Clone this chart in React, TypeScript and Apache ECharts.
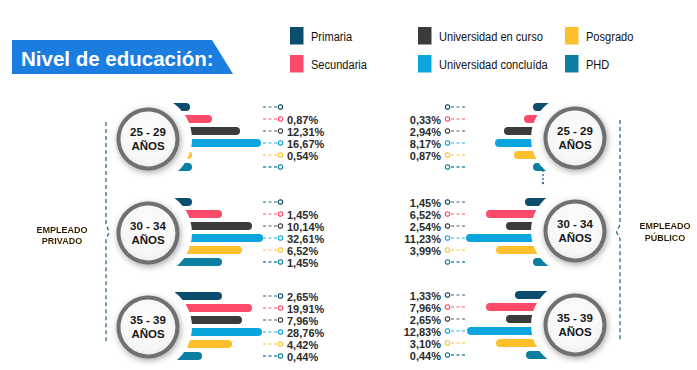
import React, { useEffect, useRef } from 'react';
import * as echarts from 'echarts';

// ---------- data ----------
const categories = [
  'Primaria',
  'Secundaria',
  'Universidad en curso',
  'Universidad concluída',
  'Posgrado',
  'PHD',
];
const ageGroups = ['25 - 29', '30 - 34', '35 - 39'];

// Percentages shown as labels (null = no label in the source)
const privado2529 = [null, 0.87, 12.31, 16.67, 0.54, null];
const privado3034 = [null, 1.45, 10.14, 32.61, 6.52, 1.45];
const privado3539 = [2.65, 19.91, 7.96, 28.76, 4.42, 0.44];
const publico2529 = [null, 0.33, 2.94, 8.17, 0.87, null];
const publico3034 = [1.45, 6.52, 2.54, 11.23, 3.99, null];
const publico3539 = [1.33, 7.96, 2.65, 12.83, 3.1, 0.44];

// Bar lengths as drawn in the source infographic (visual scale, not proportional)
const privadoBar2529 = [0, 2.2, 5.0, 7.1, 0.2, 0.2];
const privadoBar3034 = [0.2, 3.2, 6.2, 7.3, 5.2, 3.2];
const privadoBar3539 = [3.2, 6.2, 5.2, 7.2, 4.2, 1.2];
const publicoBar2529 = [0, 0.9, 2.9, 3.8, 1.9, 0];
const publicoBar3034 = [0.8, 4.7, 2.7, 6.7, 3.7, 0];
const publicoBar3539 = [1.8, 4.7, 2.7, 6.6, 3.7, 0.7];

const sideLabels = { privado: ['EMPLEADO', 'PRIVADO'], publico: ['EMPLEADO', 'PÚBLICO'] };
const titleText = 'Nivel de educación:';

// ---------- styles ----------
const COLORS = ['#0b4d6c', '#fd4a68', '#3b3b3b', '#0aa5dd', '#fdc02c', '#0b7ea1'];
const DASH_COLORS = ['#6f97ac', '#fd8d9f', '#8c8c8c', '#70c9ee', '#fdd57a', '#2f8cad'];
const FONT = '"Liberation Sans", Arial, sans-serif';

const fmt = (v: number) => v.toFixed(2).replace('.', ',') + '%';

type Panel = { side: 'L' | 'R'; pct: (number | null)[]; bar: number[]; top: number; cy: number; age: string };

const panels: Panel[] = [
  { side: 'L', pct: privado2529, bar: privadoBar2529, top: 101, cy: 139, age: ageGroups[0] },
  { side: 'L', pct: privado3034, bar: privadoBar3034, top: 196, cy: 233, age: ageGroups[1] },
  { side: 'L', pct: privado3539, bar: privadoBar3539, top: 290, cy: 327, age: ageGroups[2] },
  { side: 'R', pct: publico2529, bar: publicoBar2529, top: 101, cy: 138, age: ageGroups[0] },
  { side: 'R', pct: publico3034, bar: publicoBar3034, top: 196, cy: 231, age: ageGroups[1] },
  { side: 'R', pct: publico3539, bar: publicoBar3539, top: 289, cy: 325, age: ageGroups[2] },
];

const LCX = 148;
const RCX = 575;

function makeRender(p: Panel) {
  return (params: any, api: any) => {
    const len = api.value(0);
    const row = api.value(1);
    const s = api.coord([-5, row]);
    const e = api.coord([len, row]);
    const y = s[1];
    const h = 8;
    const children: any[] = [];
    const isL = p.side === 'L';
    children.push({
      type: 'rect',
      shape: isL
        ? { x: s[0], y: y - h / 2, width: e[0] - s[0], height: h, r: [0, 4, 4, 0] }
        : { x: e[0], y: y - h / 2, width: s[0] - e[0], height: h, r: [4, 0, 0, 4] },
      style: { fill: COLORS[row] },
    });
    const d1 = api.coord([isL ? 7.3 : 6.8, row]);
    const d2 = api.coord([isL ? 8.7 : 8.2, row]);
    const c = api.coord([isL ? 9.05 : 8.55, row]);
    const t = api.coord([isL ? 9.7 : 9.2, row]);
    children.push({
      type: 'line',
      shape: { x1: d1[0], y1: y, x2: d2[0], y2: y },
      style: { stroke: DASH_COLORS[row], lineWidth: 1.3, lineDash: [3, 2.5] },
    });
    children.push({
      type: 'circle',
      shape: { cx: c[0], cy: y, r: 2.2 },
      style: { fill: '#fff', stroke: COLORS[row], lineWidth: 1.2 },
    });
    const v = p.pct[row];
    if (v != null) {
      const al = isL ? 'left' : 'right';
      children.push({
        type: 'text',
        style: {
          text: fmt(v), x: t[0], y: y + 0.5,
          align: al, textAlign: al, verticalAlign: 'middle', textVerticalAlign: 'middle',
          font: 'bold 11px ' + FONT, fill: '#2b2b2b',
        },
      });
    }
    return { type: 'group', children };
  };
}

function circleGraphics(cx: number, cy: number, age: string) {
  return [
    { type: 'circle', z: 50, shape: { cx, cy, r: 44 }, style: { fill: '#ffffff' }, silent: true },
    {
      type: 'circle', z: 51, shape: { cx, cy, r: 29.5 }, silent: true,
      style: {
        fill: new echarts.graphic.RadialGradient(0.5, 0.45, 0.6, [
          { offset: 0, color: '#ffffff' },
          { offset: 0.7, color: '#f7f7f7' },
          { offset: 1, color: '#e3e4e5' },
        ]),
        stroke: '#6f6f6f', lineWidth: 4,
        shadowBlur: 6, shadowColor: 'rgba(0,0,0,0.35)', shadowOffsetX: 1, shadowOffsetY: 2,
      },
    },
    {
      type: 'text', z: 52, silent: true,
      style: {
        text: age + '\nAÑOS', x: cx, y: cy,
        align: 'center', textAlign: 'center', verticalAlign: 'middle', textVerticalAlign: 'middle',
        font: 'bold 11.5px ' + FONT, lineHeight: 13.5, fill: '#161616',
      },
    },
  ];
}

export default function App() {
  const ref = useRef<HTMLDivElement>(null);
  useEffect(() => {
    document.body.style.margin = '0';
    if (!ref.current) return;
    const chart = echarts.init(ref.current, undefined, { renderer: 'svg' });

    const grid = panels.map((p) => ({
      left: p.side === 'L' ? 140 : 433, width: 150, top: p.top, height: 72,
    }));
    const xAxis = panels.map((p, i) => ({
      gridIndex: i, type: 'value', min: -5, max: 10, show: false, inverse: p.side === 'R',
    }));
    const yAxis = panels.map((p, i) => ({
      gridIndex: i, type: 'category', data: categories, inverse: true, show: false,
    }));
    const series = panels.map((p, i) => ({
      type: 'custom', xAxisIndex: i, yAxisIndex: i, silent: true, clip: false,
      encode: { x: 0, y: 1 },
      data: p.bar.map((v, k) => [v, k]),
      renderItem: makeRender(p),
    }));

    const legendPos = [
      [290, 27], [290, 55], [418, 27], [418, 55], [565, 27], [565, 55],
    ];
    const legendGraphics: any[] = [];
    categories.forEach((c, i) => {
      const [x, y] = legendPos[i];
      legendGraphics.push({ type: 'rect', shape: { x, y, width: 13.5, height: 17.5 }, style: { fill: COLORS[i] } });
      legendGraphics.push({
        type: 'text',
        x: x + 21, y: y + 10, scaleX: 0.82, scaleY: 1,
        style: {
          text: c, x: 0, y: 0,
          align: 'left', textAlign: 'left', verticalAlign: 'middle', textVerticalAlign: 'middle',
          font: '13.5px ' + FONT, fill: '#111',
        },
      });
    });

    const braceStyle = { stroke: '#2e6a88', lineWidth: 1.3, lineDash: [4, 3], fill: 'none' };

    const graphic: any[] = [
      // title banner
      { type: 'polygon', shape: { points: [[12, 40], [212, 40], [233, 74], [12, 74]] }, style: { fill: '#1b7ddf' } },
      {
        type: 'text',
        style: {
          text: titleText, x: 21, y: 58,
          align: 'left', textAlign: 'left', verticalAlign: 'middle', textVerticalAlign: 'middle',
          font: 'bold 20.5px ' + FONT, fill: '#ffffff',
        },
      },
      ...legendGraphics,
      // braces
      { type: 'polyline', z: 60, shape: { points: [[106, 122], [106, 225], [109.5, 232], [106, 239], [106, 342]] }, style: braceStyle },
      { type: 'polyline', z: 60, shape: { points: [[620, 120], [620, 225], [616.5, 232], [620, 239], [620, 340]] }, style: braceStyle },
      // connector between the public circles
      { type: 'line', z: 60, shape: { x1: 543, y1: 170, x2: 543, y2: 183 }, style: { stroke: '#2e6a88', lineWidth: 1.3, lineDash: [2, 2] } },
      { type: 'circle', z: 60, shape: { cx: 543, cy: 183, r: 1.2 }, style: { fill: '#2e6a88' } },
      // side labels
      {
        type: 'text',
        style: {
          text: sideLabels.privado.join('\n'), x: 62, y: 235,
          align: 'center', textAlign: 'center', verticalAlign: 'middle', textVerticalAlign: 'middle',
          font: 'bold 9px ' + FONT, lineHeight: 11, fill: '#1a1a1a',
          textShadowColor: 'rgba(240,160,0,0.45)', textShadowBlur: 1,
        },
      },
      {
        type: 'text',
        style: {
          text: sideLabels.publico.join('\n'), x: 665, y: 232,
          align: 'center', textAlign: 'center', verticalAlign: 'middle', textVerticalAlign: 'middle',
          font: 'bold 9px ' + FONT, lineHeight: 12, fill: '#1a1a1a',
          textShadowColor: 'rgba(240,160,0,0.45)', textShadowBlur: 1,
        },
      },
    ];
    panels.forEach((p) => {
      graphic.push(...circleGraphics(p.side === 'L' ? LCX : RCX, p.cy, p.age));
    });

    chart.setOption({
      animation: false,
      backgroundColor: '#ffffff',
      grid,
      xAxis,
      yAxis,
      series,
      graphic,
    } as any);
    return () => chart.dispose();
  }, []);
  return <div ref={ref} style={{ width: 697, height: 370 }} />;
}
